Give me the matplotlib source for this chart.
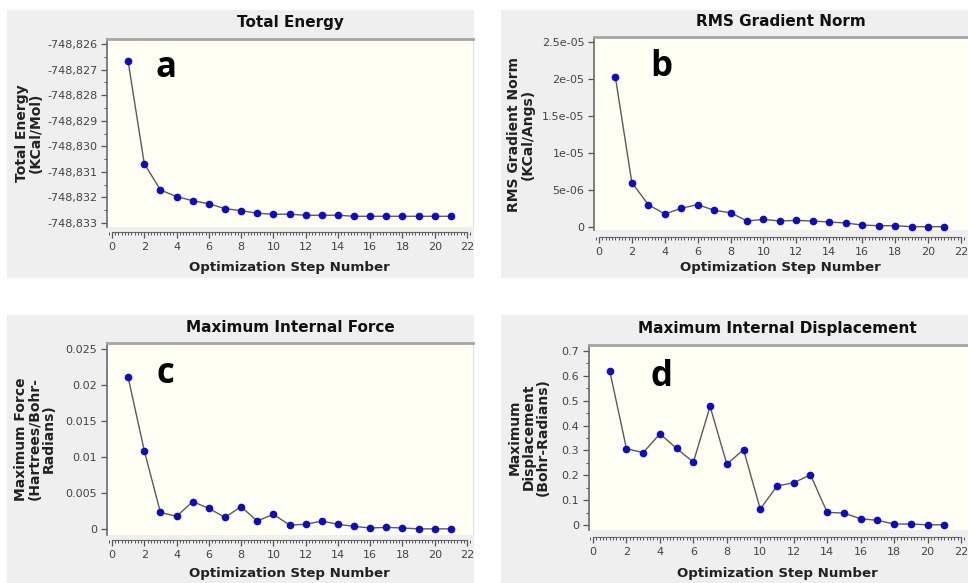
import matplotlib
matplotlib.use("Agg")
import matplotlib.pyplot as plt
from matplotlib.patches import Rectangle
from matplotlib.ticker import MultipleLocator, FuncFormatter

# data
steps = list(range(1, 22))
total_energy = [-748.82668, -748.83068, -748.83171, -748.83197, -748.83213, -748.83225,
                -748.83244, -748.83252, -748.83262, -748.83266, -748.83266, -748.83270,
                -748.83270, -748.83270, -748.83274, -748.83274, -748.83274, -748.83274,
                -748.83274, -748.83274, -748.83274]
rms_grad = [2.025e-05, 6.0e-06, 3.03e-06, 1.76e-06, 2.53e-06, 3.03e-06, 2.26e-06,
            1.94e-06, 8.1e-07, 1.04e-06, 8.1e-07, 9.0e-07, 8.1e-07, 6.8e-07, 5.4e-07,
            2.7e-07, 1.8e-07, 1.8e-07, 5e-08, 5e-08, 5e-08]
max_force = [0.02106, 0.01088, 0.00231, 0.00176, 0.0038, 0.00287, 0.00162, 0.0031,
             0.00111, 0.00204, 0.00056, 0.00065, 0.00111, 0.00065, 0.00037, 0.00014,
             0.00023, 0.00014, 0.00002, 0.00002, 0.00002]
max_disp = [0.62, 0.307, 0.291, 0.367, 0.308, 0.253, 0.477, 0.245, 0.303, 0.064,
            0.157, 0.170, 0.202, 0.051, 0.048, 0.025, 0.019, 0.004, 0.004, 0.001, 0.001]

titles = ["Total Energy", "RMS Gradient Norm", "Maximum Internal Force",
          "Maximum Internal Displacement"]
ylabels = ["Total Energy\n(KCal/Mol)", "RMS Gradient Norm\n(KCal/Angs)",
           "Maximum Force\n(Hartrees/Bohr-\nRadians)", "Maximum\nDisplacement\n(Bohr-Radians)"]
letters = ["a", "b", "c", "d"]
xlabel = "Optimization Step Number"

W, H = 968, 583
fig = plt.figure(figsize=(W / 100, H / 100), dpi=100)


def box(x0, y0, x1, y1):
    return [x0 / W, 1 - y1 / H, (x1 - x0) / W, (y1 - y0) / H]


def comma3(v, p):
    return f"{v:.3f}".replace(".", ",")


def gfmt(v, p):
    return f"{v:g}"


# layout per panel (pixels): grey box, plot area, limits, text positions
panels = [
    dict(vals=total_energy, bg=(7, 10, 474, 278), area=(107, 39, 473, 227),
         xlim=(-0.31, 22.37), ylim=(-748.83316, -748.8258), ymaj=0.001, ymin=0.0005,
         fmt=comma3, off=5, title_xy=(290, 23), ylab_xy=(29, 133), xlab_xy=(289, 268),
         letter_xy=(0.16, 0.80)),
    dict(vals=rms_grad, bg=(501, 10, 968, 278), area=(594, 37, 968, 230),
         xlim=(-0.30, 22.43), ylim=(-4e-07, 2.568e-05), ymaj=5e-06, ymin=None,
         fmt=gfmt, off=7, title_xy=(781, 22), ylab_xy=(521, 134), xlab_xy=(780, 268),
         letter_xy=(0.18, 0.80)),
    dict(vals=max_force, bg=(7, 315, 474, 583), area=(107, 343, 473, 535),
         xlim=(-0.31, 22.37), ylim=(-0.00083, 0.02583), ymaj=0.005, ymin=None,
         fmt=gfmt, off=5, title_xy=(290, 328), ylab_xy=(35, 439), xlab_xy=(289, 574),
         letter_xy=(0.16, 0.79)),
    dict(vals=max_disp, bg=(501, 315, 968, 583), area=(589, 345, 968, 530),
         xlim=(-0.24, 22.42), ylim=(-0.020, 0.724), ymaj=0.1, ymin=0.05,
         fmt=gfmt, off=7, title_xy=(777, 328), ylab_xy=(529, 437), xlab_xy=(777, 574),
         letter_xy=(0.19, 0.78)),
]

for i, p in enumerate(panels):
    bx0, by0, bx1, by1 = p["bg"]
    fig.add_artist(Rectangle((bx0 / W, 1 - by1 / H), (bx1 - bx0) / W, (by1 - by0) / H,
                             transform=fig.transFigure, facecolor="#efefef",
                             edgecolor="none", zorder=0))
    ax = fig.add_axes(box(*p["area"]))
    ax.set_facecolor("#fffff3")
    ax.plot(steps, p["vals"], color="#5a5a5a", lw=1, marker="o", ms=4.5,
            mfc="#0a0ad2", mec="#0a0ad2", clip_on=False)
    ax.set_xlim(*p["xlim"])
    ax.set_ylim(*p["ylim"])

    ax.spines["bottom"].set_position(("outward", p["off"] * 0.72))
    ax.spines["bottom"].set_bounds(0, 22)
    ax.spines["bottom"].set_color("#666666")
    ax.spines["left"].set_color("#6a6a6a")
    ax.spines["left"].set_linewidth(1.2)
    ax.spines["top"].set_color("#a5a5a5")
    ax.spines["top"].set_linewidth(2)
    ax.spines["right"].set_color("#e2e2e2")

    ax.xaxis.set_major_locator(MultipleLocator(2))
    ax.xaxis.set_minor_locator(MultipleLocator(0.2))
    ax.yaxis.set_major_locator(MultipleLocator(p["ymaj"]))
    if p["ymin"]:
        ax.yaxis.set_minor_locator(MultipleLocator(p["ymin"]))
    ax.yaxis.set_major_formatter(FuncFormatter(p["fmt"]))
    ax.tick_params(which="major", length=4, width=0.9, color="#555555",
                   labelsize=8, labelcolor="#444444", pad=3)
    ax.tick_params(which="minor", length=2.2, width=0.7, color="#555555")

    ax.text(*p["letter_xy"], letters[i], transform=ax.transAxes, ha="center",
            va="baseline", fontsize=25, fontweight="bold", family="Open Sans")

    tx, ty = p["title_xy"]
    fig.text(tx / W, 1 - ty / H, titles[i], ha="center", va="center",
             fontsize=11, fontweight="bold", color="#111111")
    lx, ly = p["ylab_xy"]
    fig.text(lx / W, 1 - ly / H, ylabels[i], ha="center", va="center", rotation=90,
             multialignment="center", fontsize=10, fontweight="bold",
             color="#222222", linespacing=1.0)
    xx, xy = p["xlab_xy"]
    fig.text(xx / W, 1 - xy / H, xlabel, ha="center", va="center",
             fontsize=9.6, fontweight="bold", color="#222222")

fig.savefig("out.png", dpi=100)
